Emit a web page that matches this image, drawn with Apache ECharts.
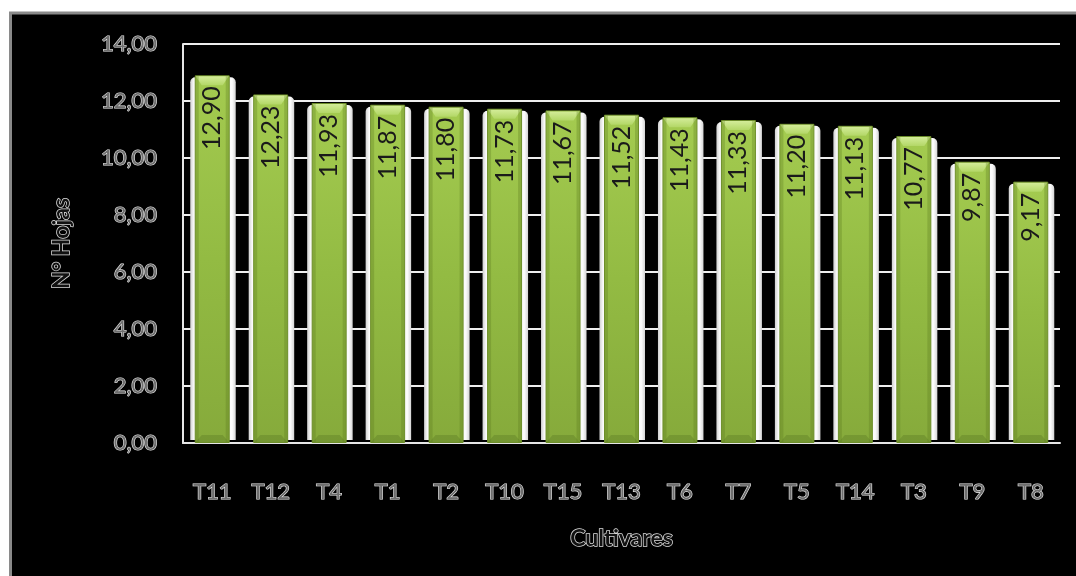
<!DOCTYPE html>
<html><head><meta charset="utf-8">
<script src="https://cdn.jsdelivr.net/npm/echarts@6/dist/echarts.min.js"></script>
<style>html,body{margin:0;padding:0;background:#fff;}#c{width:1076px;height:576px;}</style>
</head><body><div id="c"></div>
<script>
const categories = ['T11','T12','T4','T1','T2','T10','T15','T13','T6','T7','T5','T14','T3','T9','T8'];
const values = [12.90,12.23,11.93,11.87,11.80,11.73,11.67,11.52,11.43,11.33,11.20,11.13,10.77,9.87,9.17];
const yTicks = {min:0, max:14, interval:2};
const fmt = v => v.toFixed(2).replace('.', ',');
const txt = {color:'#6e6e6e', textBorderColor:'#e8e8e8', textBorderWidth:1.2, fontFamily:'Lato', fontSize:22};
const nameTxt = {color:'#111', textBorderColor:'#ddd', textBorderWidth:1.5, fontFamily:'Lato', fontWeight:'bold', fontSize:23};
const pairs = values.map((v, i) => [i, v]);
const BW = 35;
const chart = echarts.init(document.getElementById('c'));
chart.setOption({
  backgroundColor:'#fff',
  animation:false,
  graphic:[{type:'rect', z:-10, silent:true, shape:{x:10.5,y:13,width:1100,height:600}, style:{fill:'#000', stroke:'#8a8a8a', lineWidth:3}}],
  grid:{left:183, right:16, top:44, bottom:133},
  xAxis:{type:'category', data:categories,
    axisLine:{lineStyle:{color:'#e6e6e6', width:2}}, axisTick:{show:false},
    axisLabel:Object.assign({margin:38}, txt),
    name:'Cultivares', nameLocation:'middle', nameGap:84, nameTextStyle:nameTxt},
  yAxis:{type:'value', min:yTicks.min, max:yTicks.max, interval:yTicks.interval,
    axisLine:{show:true, lineStyle:{color:'#e6e6e6', width:2}}, axisTick:{show:false},
    splitLine:{lineStyle:{color:'#eeeeee', width:2}},
    axisLabel:Object.assign({margin:26, formatter:fmt}, txt),
    name:'N° Hojas', nameLocation:'middle', nameGap:110, nameTextStyle:nameTxt},
  series:[
    {type:'custom', z:1, silent:true, data:pairs,
      renderItem:(params, api) => {
        const top = api.coord([api.value(0), api.value(1)]);
        const bot = api.coord([api.value(0), 0]);
        const x0 = top[0] - BW/2 - 4.5, x1 = top[0] + BW/2 + 6;
        return {type:'rect', shape:{x:x0, y:top[1]+2, width:x1-x0, height:bot[1]-top[1]-5, r:[5,5,0,0]},
          style:{fill:new echarts.graphic.LinearGradient(0,0,1,0,[
            {offset:0,color:'#d0d0d0'},{offset:0.08,color:'#fbfbfb'},{offset:0.92,color:'#fbfbfb'},{offset:1,color:'#d4d4d4'}])}};
      }},
    {type:'bar', z:2, data:values, barWidth:BW,
      itemStyle:{
        color:new echarts.graphic.LinearGradient(0,0,0,1,[
          {offset:0,color:'#a4cb50'},{offset:0.5,color:'#93bb43'},{offset:1,color:'#86aa3b'}]),
        borderColor:'#6d8e2a', borderWidth:1},
      label:{show:true, position:'insideTop', rotate:90, align:'right', verticalAlign:'middle', distance:11,
        formatter:p=>fmt(p.value), color:'#1a1a1a', fontFamily:'Lato', fontSize:25}
    },
    {type:'custom', z:3, silent:true, data:pairs,
      renderItem:(params, api) => {
        const top = api.coord([api.value(0), api.value(1)]);
        const bot = api.coord([api.value(0), 0]);
        const l = top[0] - BW/2 + 1, r = top[0] + BW/2 - 1, t = top[1] + 1, b = bot[1] - 1;
        return {type:'group', children:[
          {type:'polygon', shape:{points:[[l,t],[r,t],[r-6,t+9],[l+6,t+9]]},
            style:{fill:new echarts.graphic.LinearGradient(0,0,0,1,[{offset:0,color:'#d3ec98'},{offset:1,color:'#b3d767'}])}},
          {type:'polygon', shape:{points:[[l,b],[r,b],[r-6,b-7],[l+6,b-7]]},
            style:{fill:'rgba(80,110,30,0.3)'}},
          {type:'rect', shape:{x:l, y:t, width:3, height:b-t}, style:{fill:'rgba(90,120,30,0.3)'}},
          {type:'rect', shape:{x:r-3, y:t, width:3, height:b-t}, style:{fill:'rgba(90,120,30,0.3)'}}
        ]};
      }}
  ]
});
</script></body></html>
